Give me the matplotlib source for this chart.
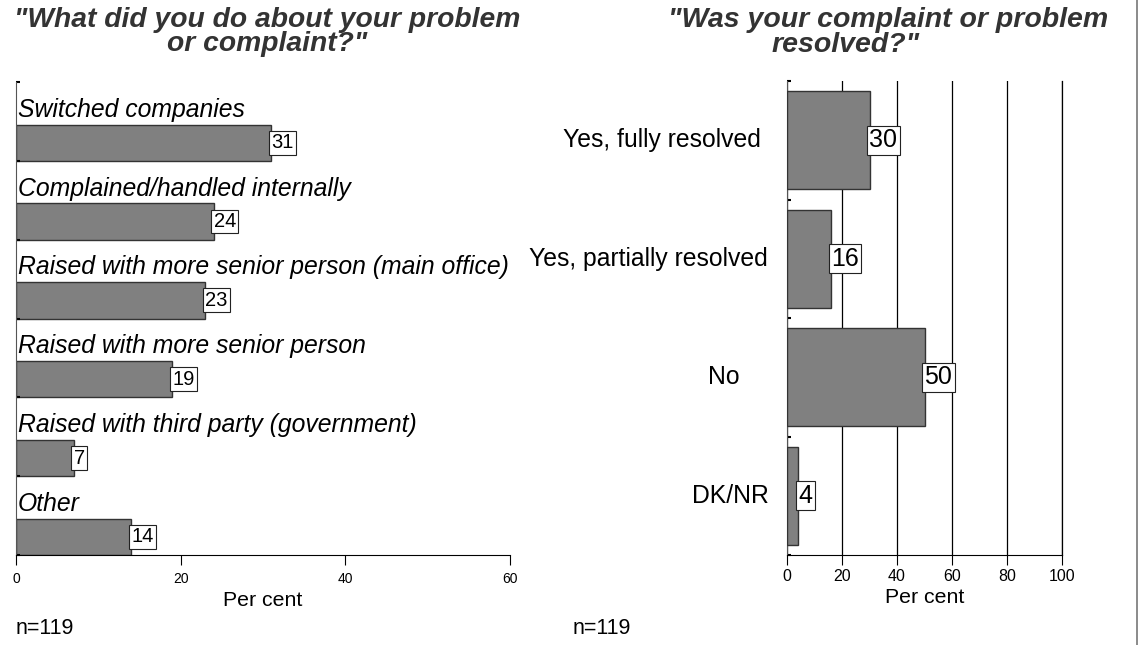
import matplotlib.pyplot as plt
from matplotlib.lines import Line2D

plt.rcParams['font.family'] = ['Liberation Sans', 'DejaVu Sans']

# left panel: what was done
actions = ['Switched companies', 'Complained/handled internally',
           'Raised with more senior person (main office)',
           'Raised with more senior person',
           'Raised with third party (government)', 'Other']
action_pct = [31, 24, 23, 19, 7, 14]

# right panel: was it resolved
outcomes = ['Yes, fully resolved', 'Yes, partially resolved', 'No', 'DK/NR']
outcome_pct = [30, 16, 50, 4]

n_text = 'n=119'
bar_col = '#808080'
edge_col = '#333333'
title_col = '#333333'

fig = plt.figure(figsize=(11.4, 6.45), dpi=100)

# ---------------- left panel
ax1 = fig.add_axes([16/1140, 90/645, 494/1140, 473/645])
n1 = len(actions)
ypos = [n1 - 1 - i for i in range(n1)]
ax1.barh(ypos, action_pct, height=0.46, align='edge', color=bar_col,
         edgecolor=edge_col, linewidth=1)
for y, lab, v in zip(ypos, actions, action_pct):
    ax1.text(0.25, y + 0.56, lab, fontsize=17.8, style='italic', va='baseline', ha='left')
    ax1.text(v, y + 0.23, str(v), fontsize=14.5, va='center', ha='left',
             bbox=dict(boxstyle='square,pad=0.12', fc='white', ec='#222222', lw=0.8))
ax1.set_xlim(0, 60)
ax1.set_ylim(0, n1)
ax1.set_xticks([0, 20, 40, 60])
ax1.tick_params(axis='x', labelsize=10, length=7, direction='out', pad=5)
ax1.set_yticks(range(n1 + 1))
ax1.set_yticklabels([])
ax1.tick_params(axis='y', length=3, direction='in', width=1.5)
ax1.spines['top'].set_visible(False)
ax1.spines['right'].set_visible(False)
ax1.spines['left'].set_color('#555555')
ax1.set_xlabel('Per cent', fontsize=15.3, labelpad=4)

fig.text(267/1140, 1 - 27/645, '"What did you do about your problem', fontsize=20.3,
         weight='bold', style='italic', color=title_col, ha='center', va='baseline')
fig.text(267/1140, 1 - 51/645, 'or complaint?"', fontsize=20.3,
         weight='bold', style='italic', color=title_col, ha='center', va='baseline')
fig.text(16/1140, 1 - 628/645, n_text, fontsize=15.5, va='center', ha='left')

# ---------------- right panel
ax2 = fig.add_axes([787/1140, 90/645, 275/1140, 474/645])
n2 = len(outcomes)
ypos2 = [n2 - 1 - i + 0.5 for i in range(n2)]
ax2.barh(ypos2, outcome_pct, height=0.83, color=bar_col, edgecolor=edge_col, linewidth=1,
         zorder=3)
label_x = [-0.455, -0.505, -0.229, -0.207]
for y, lab, v, lx in zip(ypos2, outcomes, outcome_pct, label_x):
    ax2.text(lx, y, lab, fontsize=17.8, ha='center', va='center',
             transform=ax2.get_yaxis_transform())
    ax2.text(v, y, str(v), fontsize=18, va='center', ha='left', zorder=4,
             bbox=dict(boxstyle='square,pad=0.1', fc='white', ec='#222222', lw=0.8))
ax2.set_xlim(0, 100)
ax2.set_ylim(0, n2)
ax2.set_xticks([0, 20, 40, 60, 80, 100])
ax2.tick_params(axis='x', labelsize=11.5, length=7, direction='out', pad=3)
ax2.set_yticks(range(n2 + 1))
ax2.set_yticklabels([])
ax2.tick_params(axis='y', length=3, direction='in', width=1.5)
ax2.xaxis.grid(True, color='black', linewidth=0.9)
ax2.set_axisbelow(True)
ax2.spines['top'].set_visible(False)
ax2.spines['right'].set_color('black')
ax2.spines['right'].set_linewidth(0.9)
ax2.spines['left'].set_color('#555555')
ax2.set_xlabel('Per cent', fontsize=15.3, labelpad=3)

fig.text(888/1140, 1 - 27/645, '"Was your complaint or problem', fontsize=20.5,
         weight='bold', style='italic', color=title_col, ha='center', va='baseline')
fig.text(846/1140, 1 - 51.5/645, 'resolved?"', fontsize=20.5,
         weight='bold', style='italic', color=title_col, ha='center', va='baseline')
fig.text(573/1140, 1 - 628/645, n_text, fontsize=15.5, va='center', ha='left')

# frame line on the right edge
fig.add_artist(Line2D([1137/1140, 1137/1140], [0, 1], transform=fig.transFigure,
                      color='#777777', linewidth=1.2))

fig.savefig('out.png', dpi=100)
